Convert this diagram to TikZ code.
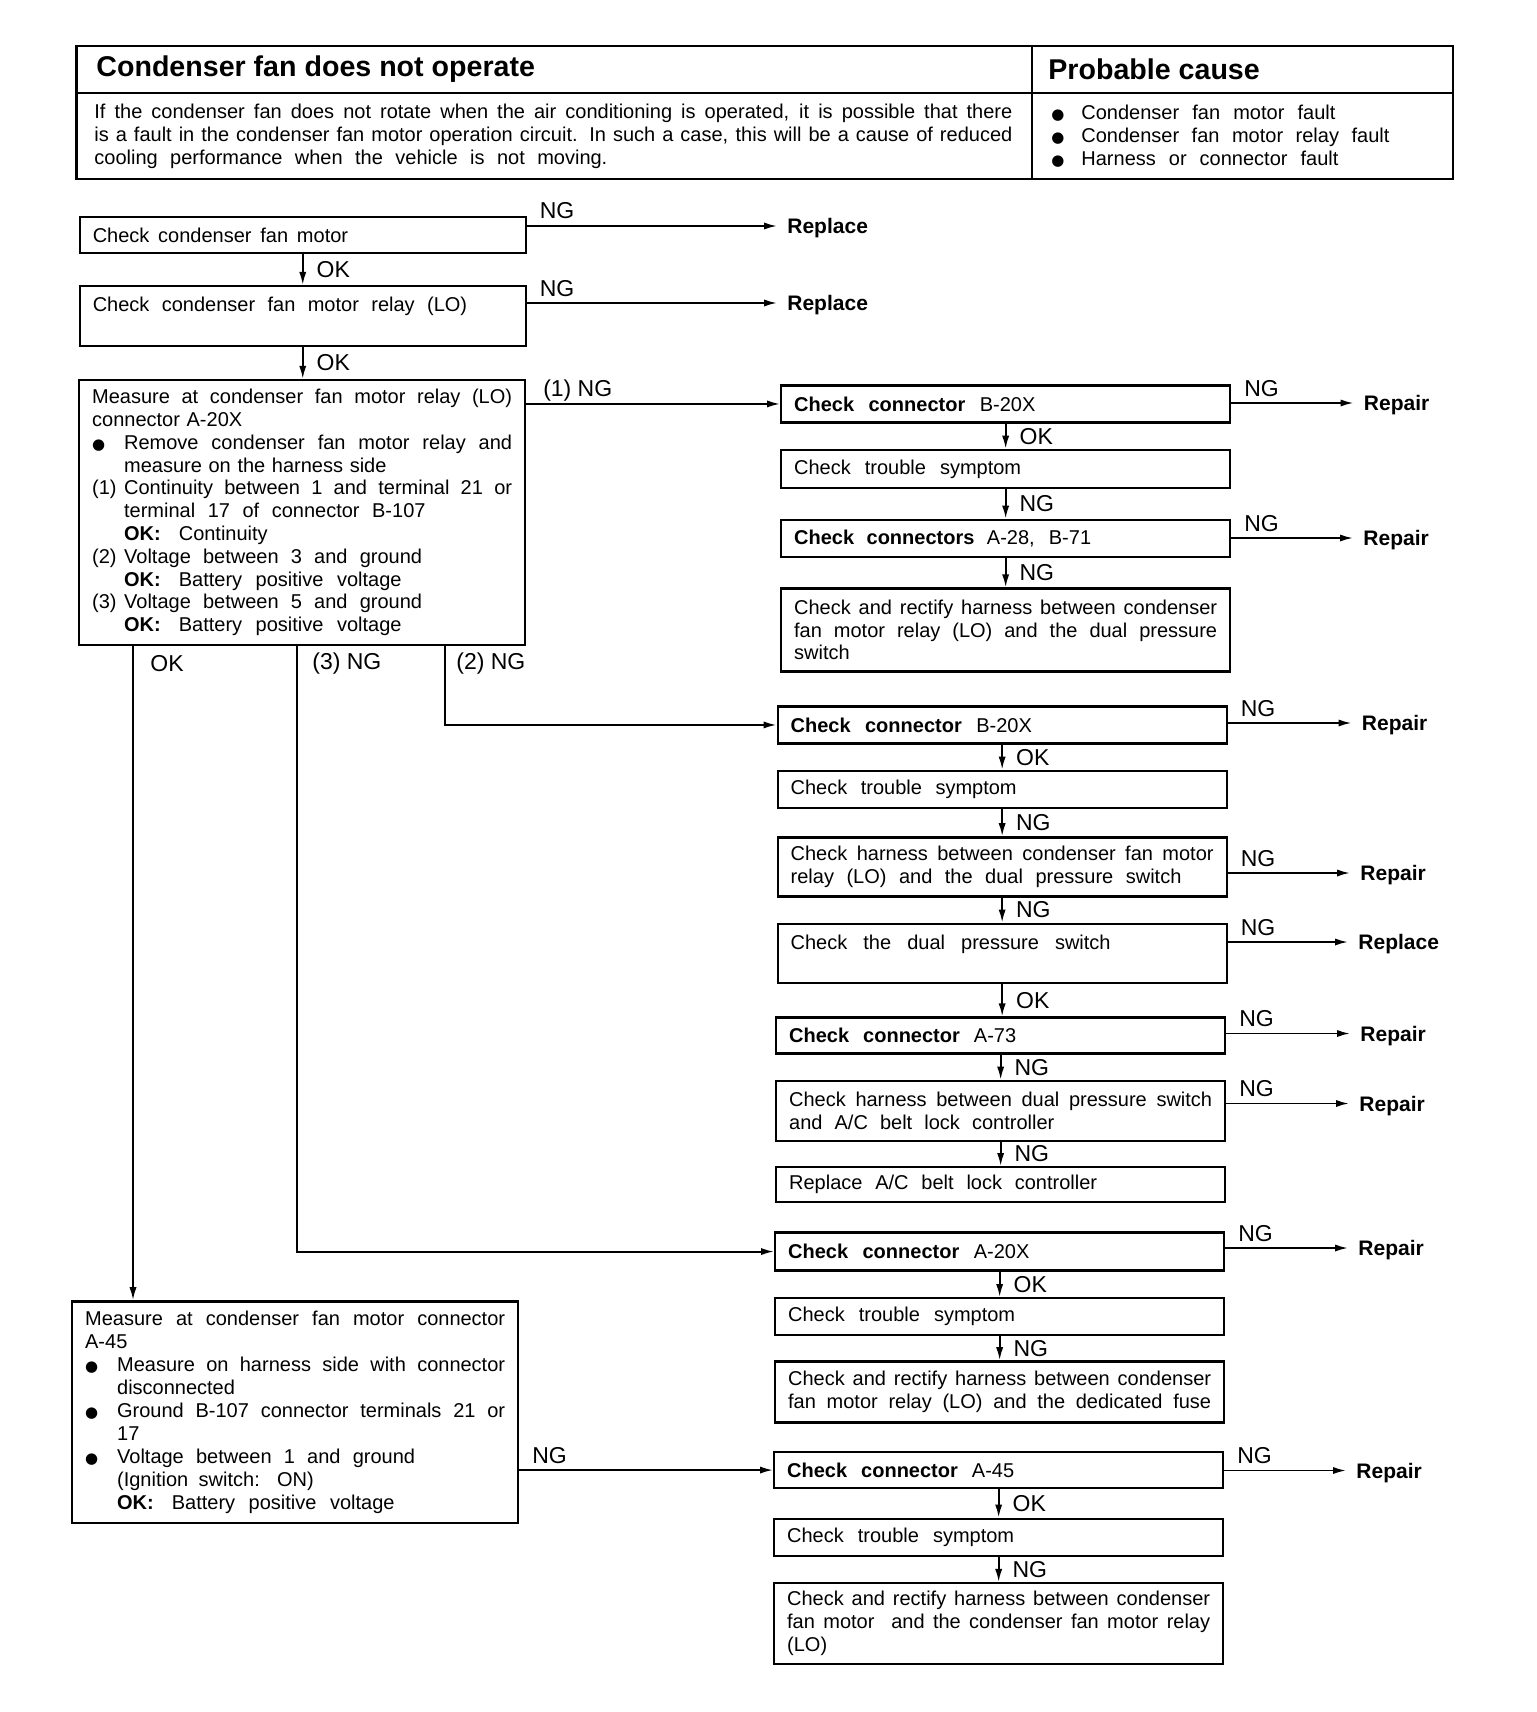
\documentclass[tikz,border=0pt]{standalone}
\usepackage{fontspec}
\setmainfont{Liberation Sans}
\newfontfamily\dejavu{DejaVu Sans}
\usetikzlibrary{arrows.meta}
\newcommand\jfull[1]{\makebox[\linewidth][s]{\spaceskip=0pt\xspaceskip=0pt #1}}
\newcommand\jsp[2]{\makebox[#1][s]{\spaceskip=0pt\xspaceskip=0pt #2}}
\newcommand\hng[1]{\makebox[16pt][l]{#1}}
\newcommand\hjust[1]{\makebox[\dimexpr\linewidth-16pt\relax][s]{\spaceskip=0pt\xspaceskip=0pt #1}}
\newcommand\bul{{\dejavu\fontsize{7.5}{7.5}\selectfont ●}}
\begin{document}
\begin{tikzpicture}[x=0.5pt,y=-0.5pt,line join=miter,
  >={Latex[length=6.5pt,width=3.6pt]},
  box/.style={draw, line width=1.15pt, anchor=north west, inner xsep=6.5pt, inner ysep=0pt, align=left, font=\fontsize{10}{11.4}\selectfont},
  rbox/.style={box, text width=211.5pt},
  lbox/.style={box, text width=210pt},
  arr/.style={->, line width=0.95pt},
  res/.style={anchor=west, inner xsep=5pt, inner ysep=0pt, text depth=0pt, font=\fontsize{10.5}{12}\selectfont\bfseries},
  nglab/.style={anchor=base west, inner sep=0pt, font=\fontsize{11.5}{13}\selectfont, pos=0, xshift=6pt, yshift=3.5pt},
  dlab/.style={anchor=west, inner sep=0pt, font=\fontsize{11.5}{13}\selectfont, xshift=6.5pt},
  lab/.style={anchor=west, inner sep=0pt, font=\fontsize{11.5}{13}\selectfont},
  frame/.style={line width=1.2pt}]
\fill[white] (0,0) rectangle (1536,1712);
\useasboundingbox (0,0) rectangle (1536,1712);

% ---------- header table ----------
\draw[frame] (76.4,45.9) rectangle (1453,179);
\draw[frame] (76.4,92.8) -- (1453,92.8);
\draw[frame] (1031.7,45.9) -- (1031.7,179);
\node[anchor=west, inner sep=0pt, font=\fontsize{14.3}{16}\selectfont\bfseries] (ttl) at (96,69.5) {Condenser fan does not operate};
\node[anchor=west, inner sep=0pt, font=\fontsize{14.3}{16}\selectfont\bfseries] (pc) at (1048,69.5) {Probable cause};
\node[anchor=base west, inner sep=0pt, text width=459pt, align=left, font=\fontsize{10}{11.5}\selectfont] (desc) at (94,118.5)
 {\jfull{If the condenser fan does not rotate when the air conditioning is operated, it is possible that there}\\
  \jfull{is a fault in the condenser fan motor operation circuit. In such a case, this will be a cause of reduced}\\
  \jsp{256.5pt}{cooling performance when the vehicle is not moving.}};
\node[anchor=base west, inner sep=0pt, text width=190pt, align=left, font=\fontsize{10}{11.6}\selectfont] (causes) at (1051,119.5)
 {\makebox[15pt][l]{\bul}\jsp{127pt}{Condenser fan motor fault}\\
  \makebox[15pt][l]{\bul}\jsp{154pt}{Condenser fan motor relay fault}\\
  \makebox[15pt][l]{\bul}\jsp{128.5pt}{Harness or connector fault}};

% ---------- left column ----------
\node[lbox, minimum height=18pt] (b1) at (78.6,216.2) {\jsp{127.7pt}{Check condenser fan motor}};
\node[lbox, minimum height=30pt] (b2) at (78.6,284.9) {\jsp{187.2pt}{Check condenser fan motor relay (LO)}\\\mbox{}};
\node[lbox, minimum height=132.6pt] (b3) at (78,378.8)
 {\jfull{Measure at condenser fan motor relay (LO)}\\
  connector A-20X\\
  \hng{\bul}\hjust{Remove condenser fan motor relay and}\\
  \hng{}measure on the harness side\\
  \hng{(1)}\hjust{Continuity between 1 and terminal 21 or}\\
  \hng{}\jsp{150.7pt}{terminal 17 of connector B-107}\\
  \hng{}\textbf{OK:}\hspace{9pt}Continuity\\
  \hng{(2)}\jsp{149pt}{Voltage between 3 and ground}\\
  \hng{}\textbf{OK:}\hspace{9pt}\jsp{111.4pt}{Battery positive voltage}\\
  \hng{(3)}\jsp{149pt}{Voltage between 5 and ground}\\
  \hng{}\textbf{OK:}\hspace{9pt}\jsp{111.4pt}{Battery positive voltage}};
\node[lbox, minimum height=110.8pt, font=\fontsize{10}{11.5}\selectfont] (b5) at (71,1300.2)
 {\jfull{Measure at condenser fan motor connector}\\
  A-45\\
  \hng{\bul}\hjust{Measure on harness side with connector}\\
  \hng{}disconnected\\
  \hng{\bul}\hjust{Ground B-107 connector terminals 21 or}\\
  \hng{}17\\
  \hng{\bul}\jsp{149pt}{Voltage between 1 and ground}\\
  \hng{}\jsp{98.3pt}{(Ignition switch: ON)}\\
  \hng{}\textbf{OK:}\hspace{9pt}\jsp{111.4pt}{Battery positive voltage}};

% ---------- right column, group 1 ----------
\node[rbox, minimum height=18.5pt] (r1) at (780,384.3) {\jsp{120.6pt}{\textbf{Check connector} B-20X}};
\node[rbox, minimum height=19pt] (r2) at (780,448.7) {\jsp{113.5pt}{Check trouble symptom}};
\node[rbox, minimum height=18.5pt] (r3) at (780,518.6) {\jsp{148.5pt}{\textbf{Check connectors} A-28, B-71}};
\node[rbox, minimum height=41.5pt] (r4) at (780,587.3)
 {\jfull{Check and rectify harness between condenser}\\
  \jfull{fan motor relay (LO) and the dual pressure}\\
  switch};

% ---------- group 2 ----------
\node[rbox, minimum height=18.6pt] (g2a) at (776.5,705.2) {\jsp{120.6pt}{\textbf{Check connector} B-20X}};
\node[rbox, minimum height=18.6pt] (g2b) at (776.5,769.6) {\jsp{113pt}{Check trouble symptom}};
\node[rbox, minimum height=29.5pt] (g2c) at (776.5,836.2)
 {\jfull{Check harness between condenser fan motor}\\
  \jsp{195.4pt}{relay (LO) and the dual pressure switch}};
\node[rbox, minimum height=29.5pt] (g2d) at (776.5,922.5) {\jsp{160pt}{Check the dual pressure switch}\\\mbox{}};
\node[rbox, minimum height=18pt] (g2e) at (775,1016.4) {\jsp{113.5pt}{\textbf{Check connector} A-73}};
\node[rbox, minimum height=30pt] (g2f) at (775,1079.7)
 {\jfull{Check harness between dual pressure switch}\\
  \jsp{132.6pt}{and A/C belt lock controller}};
\node[rbox, minimum height=17.5pt] (g2g) at (775,1166) {\jsp{154pt}{Replace A/C belt lock controller}};

% ---------- group 3 ----------
\node[rbox, minimum height=19pt] (g3a) at (774,1231.4) {\jsp{120.6pt}{\textbf{Check connector} A-20X}};
\node[rbox, minimum height=18.5pt] (g3b) at (774,1297) {\jsp{113.5pt}{Check trouble symptom}};
\node[rbox, minimum height=30.5pt] (g3c) at (774,1360.2)
 {\jfull{Check and rectify harness between condenser}\\
  \jfull{fan motor relay (LO) and the dedicated fuse}};

% ---------- group 4 ----------
\node[rbox, minimum height=18pt] (g4a) at (773,1450.9) {\jsp{113.5pt}{\textbf{Check connector} A-45}};
\node[rbox, minimum height=18.5pt] (g4b) at (773,1517.5) {\jsp{113.5pt}{Check trouble symptom}};
\node[rbox, minimum height=40.4pt] (g4c) at (773,1581.9)
 {\jfull{Check and rectify harness between condenser}\\
  \jfull{fan motor\ \ and the condenser fan motor relay}\\
  (LO)};

% ---------- results ----------
\node[res] (p1) at (777,226) {Replace};
\node[res] (p2) at (777,303) {Replace};
\node[res] (p3) at (1353.5,403) {Repair};
\node[res] (p4) at (1353,538) {Repair};
\node[res] (p5) at (1351.5,723) {Repair};
\node[res] (p6) at (1350,873) {Repair};
\node[res] (p7) at (1348,942) {Replace};
\node[res] (p8) at (1350,1033.5) {Repair};
\node[res] (p9) at (1349,1103.5) {Repair};
\node[res] (p10) at (1348,1248) {Repair};
\node[res] (p11) at (1346,1470.5) {Repair};

% ---------- NG arrows to results ----------
\draw[arr] (b1.east |- p1.west) -- node[nglab] (n1) {NG} (p1.west);
\draw[arr] (b2.east |- p2.west) -- node[nglab] (n2) {NG} (p2.west);
\draw[arr] (r1.east |- p3.west) -- node[nglab] (n3) {NG} (p3.west);
\draw[arr] (r3.east |- p4.west) -- node[nglab] (n4) {NG} (p4.west);
\draw[arr] (g2a.east |- p5.west) -- node[nglab] (n5) {NG} (p5.west);
\draw[arr] (g2c.east |- p6.west) -- node[nglab] (n6) {NG} (p6.west);
\draw[arr] (g2d.east |- p7.west) -- node[nglab] (n7) {NG} (p7.west);
\draw[arr] (g2e.east |- p8.west) -- node[nglab] (n8) {NG} (p8.west);
\draw[arr] (g2f.east |- p9.west) -- node[nglab] (n9) {NG} (p9.west);
\draw[arr] (g3a.east |- p10.west) -- node[nglab] (n10) {NG} (p10.west);
\draw[arr] (g4a.east |- p11.west) -- node[nglab] (n11) {NG} (p11.west);

% ---------- vertical flow arrows ----------
\draw[arr] (b1.south) -- node[dlab] (d1) {OK} (b1.south |- b2.north);
\draw[arr] (b2.south) -- node[dlab] (d2) {OK} (b2.south |- b3.north);
\draw[arr] (r1.south) -- node[dlab] (d3) {OK} (r1.south |- r2.north);
\draw[arr] (r2.south) -- node[dlab] (d4) {NG} (r2.south |- r3.north);
\draw[arr] (r3.south) -- node[dlab] (d5) {NG} (r3.south |- r4.north);
\draw[arr] (g2a.south) -- node[dlab] (d6) {OK} (g2a.south |- g2b.north);
\draw[arr] (g2b.south) -- node[dlab] (d7) {NG} (g2b.south |- g2c.north);
\draw[arr] (g2c.south) -- node[dlab] (d8) {NG} (g2c.south |- g2d.north);
\draw[arr] (g2d.south) -- node[dlab] (d9) {OK} (g2d.south |- g2e.north);
\draw[arr] (g2e.south) -- node[dlab] (d10) {NG} (g2e.south |- g2f.north);
\draw[arr] (g2f.south) -- node[dlab] (d11) {NG} (g2f.south |- g2g.north);
\draw[arr] (g3a.south) -- node[dlab] (d12) {OK} (g3a.south |- g3b.north);
\draw[arr] (g3b.south) -- node[dlab] (d13) {NG} (g3b.south |- g3c.north);
\draw[arr] (g4a.south) -- node[dlab] (d14) {OK} (g4a.south |- g4b.north);
\draw[arr] (g4b.south) -- node[dlab] (d15) {NG} (g4b.south |- g4c.north);

% ---------- branches from the measurement box ----------
\coordinate (xok) at (133,0);
\coordinate (x3) at (297,0);
\coordinate (x2) at (445.4,0);
\draw[arr] (b3.east |- r1.west) -- node[nglab, xshift=2pt] (n0) {(1) NG} (r1.west);
\draw[arr] (b3.south -| x2) |- (g2a.west);
\draw[arr] (b3.south -| x3) |- (g3a.west);
\draw[arr] (b3.south -| xok) -- (b5.north -| xok);
\node[lab] (lok) at (150,664) {OK};
\node[lab] (l3) at (312,664) {(3) NG};
\node[lab] (l2) at (456,664) {(2) NG};
\draw[arr] (b5.east |- g4a.west) -- node[nglab] (n12) {NG} (g4a.west);
\end{tikzpicture}
\end{document}
